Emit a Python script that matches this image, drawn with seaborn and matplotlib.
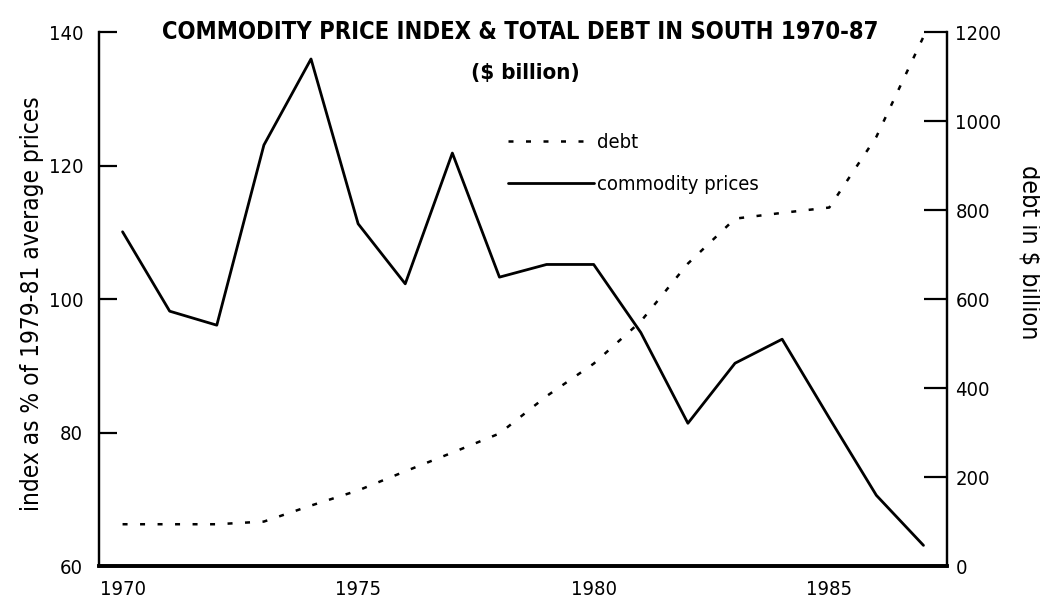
import matplotlib
matplotlib.use("Agg")
import matplotlib.pyplot as plt
from matplotlib import font_manager as fm
import seaborn as sns
import pandas as pd

years = list(range(1970, 1988))
commodity_prices = [110.1, 98.2, 96.1, 123.1, 136.0, 111.3, 102.3, 121.9, 103.3,
                    105.2, 105.2, 95.0, 81.4, 90.4, 94.0, 82.2, 70.6, 63.1]
debt = [94, 94, 94, 100, 136, 170, 213, 255, 298, 382, 455, 550, 680, 781,
        794, 806, 965, 1190]
left_ticks = [60, 80, 100, 120, 140]
right_ticks = [0, 200, 400, 600, 800, 1000, 1200]
x_ticks = [1970, 1975, 1980, 1985]

title = "COMMODITY PRICE INDEX & TOTAL DEBT IN SOUTH 1970-87"
subtitle = "($ billion)"
left_label = "index as % of 1979-81 average prices"
right_label = "debt in $ billion"

sns.set_style("white")

# find a condensed face if one is installed
cond = None
for f in fm.fontManager.ttflist:
    if f.name == 'DejaVu Sans' and str(f.stretch) in ('condensed', '75', 'semi-condensed', '87'):
        cond = 'dejavu'
        break
if cond is None:
    for f in fm.fontManager.ttflist:
        if 'Narrow' in f.name or 'Condensed' in f.name:
            cond = f.name
            break

if cond == 'dejavu':
    fam = ['DejaVu Sans']
    stretch = 'condensed'
    scale = 1.0
elif cond:
    fam = [cond, 'DejaVu Sans']
    stretch = 'normal'
    scale = 1.0
else:
    fam = ['Roboto', 'DejaVu Sans']
    stretch = 'normal'
    scale = 0.85

plt.rcParams['font.family'] = fam
plt.rcParams['font.stretch'] = stretch
plt.rcParams['text.color'] = 'black'

df = pd.DataFrame({"year": years, "commodity": commodity_prices, "debt": debt})

fig = plt.figure(figsize=(10.4, 6.08), dpi=100)
ax = fig.add_axes([0.0952, 0.069, 0.8154, 0.8779])
ax2 = ax.twinx()

sns.lineplot(data=df, x="year", y="commodity", ax=ax, color="black", lw=2.0,
             label="commodity prices", legend=False)
sns.lineplot(data=df, x="year", y="debt", ax=ax2, color="black", lw=1.8,
             linestyle=(0, (2.0, 5.0)), label="debt", legend=False)

ax.set_xlim(1969.5, 1987.5)
ax.set_ylim(60, 140)
ax2.set_ylim(0, 1200)
ax.set_xticks(x_ticks)
ax.set_yticks(left_ticks)
ax2.set_yticks(right_ticks)
ax.set_xlabel("")
ax.set_ylabel("")
ax2.set_ylabel("")

for a in (ax, ax2):
    a.spines['top'].set_visible(False)
    for s in ('left', 'right', 'bottom'):
        a.spines[s].set_color('black')
    a.spines['left'].set_linewidth(1.6)
    a.spines['right'].set_linewidth(1.6)
    a.spines['bottom'].set_linewidth(2.6)

ts = 14.5 * scale
ax.tick_params(axis='y', direction='in', length=13, width=1.6, pad=11.5,
               labelsize=ts, colors='black')
ax.tick_params(axis='x', length=0, pad=10, labelsize=ts, colors='black')
ax2.tick_params(axis='y', direction='in', length=16.5, width=1.6, pad=6,
                labelsize=ts, colors='black')

fig.text(0.031, 0.5, left_label, rotation=90, ha='center', va='center',
         fontsize=17.5 * scale)
fig.text(0.990, 0.5855, right_label, rotation=270, ha='center', va='center',
         fontsize=18 * scale)

fig.text(0.50, 0.948, title, ha='center', va='center', fontsize=17 * scale,
         fontweight='bold')
fig.text(0.505, 0.880, subtitle, ha='center', va='center', fontsize=16 * scale,
         fontweight='bold')

h1, l1 = ax2.get_legend_handles_labels()
h2, l2 = ax.get_legend_handles_labels()
ax.legend(h1 + h2, l1 + l2, loc='upper left', bbox_to_anchor=(0.482, 0.812),
          frameon=False, fontsize=14.5 * scale, handlelength=4.3,
          handletextpad=0.15, labelspacing=1.15, borderaxespad=0,
          borderpad=0)

fig.savefig("out.png", dpi=100)
